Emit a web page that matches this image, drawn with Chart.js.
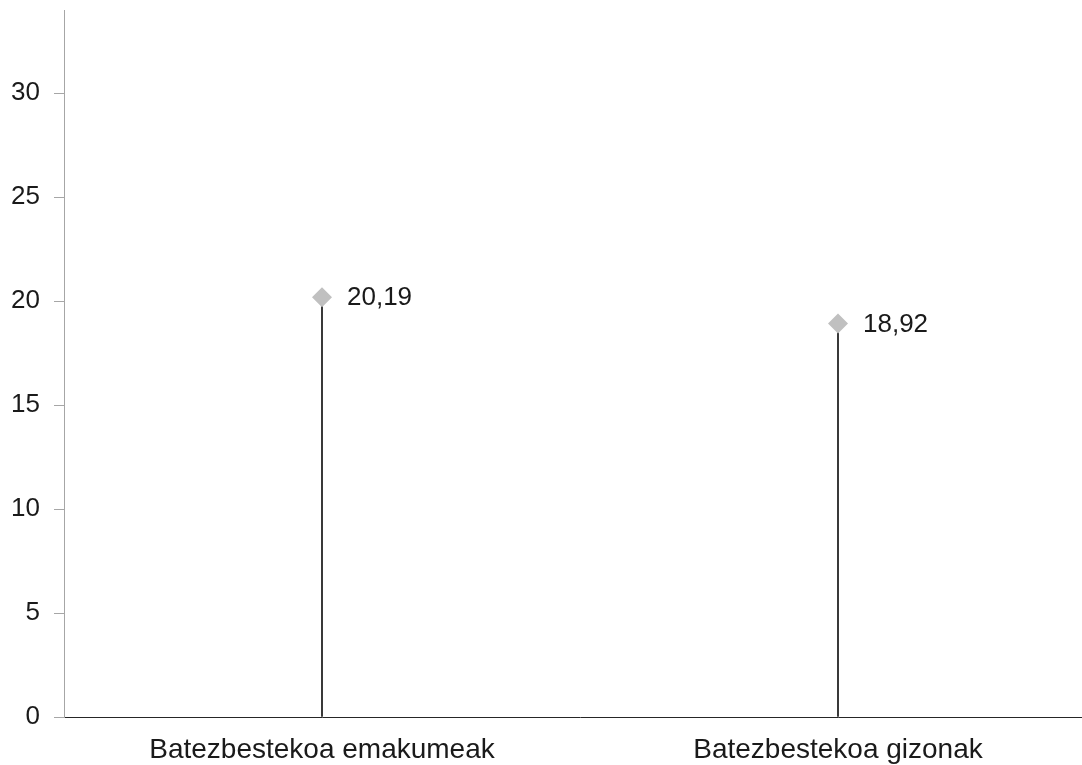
<!DOCTYPE html>
<html>
<head>
<meta charset="utf-8">
<script src="https://cdn.jsdelivr.net/npm/chart.js@4/dist/chart.umd.min.js"></script>
<style>
    html, body { margin: 0; padding: 0; background: #fff; overflow: hidden; }
    #wrap { width: 1106px; height: 765px; }
</style>
</head>
<body>
<div id="wrap"><canvas id="chart" width="1106" height="765"></canvas></div>
<script>
// Chart data
const categories = ['Batezbestekoa emakumeak', 'Batezbestekoa gizonak'];
const averages = [20.19, 18.92];
const yTicks = [0, 5, 10, 15, 20, 25, 30];
const yMax = 34;

const FONT = '"Liberation Sans", Arial, sans-serif';

// Value labels to the right of each diamond, Basque decimal comma
const valueLabels = {
    id: 'valueLabels',
    afterDatasetsDraw(chart) {
        const meta = chart.getDatasetMeta(1);
        const ctx = chart.ctx;
        ctx.save();
        ctx.font = '26px ' + FONT;
        ctx.fillStyle = '#1a1a1a';
        ctx.textAlign = 'left';
        ctx.textBaseline = 'middle';
        meta.data.forEach((pt, i) => {
            const txt = averages[i].toFixed(2).replace('.', ',');
            ctx.fillText(txt, pt.x + 25, pt.y + 1);
        });
        ctx.restore();
    }
};

new Chart(document.getElementById('chart'), {
    data: {
        labels: categories,
        datasets: [
            {
                // thin drop line from the axis up to the marker
                type: 'bar',
                data: averages,
                backgroundColor: '#111',
                barThickness: 1,
                order: 2
            },
            {
                type: 'line',
                data: averages,
                showLine: false,
                pointStyle: 'rectRot',
                pointRadius: 10,
                pointBackgroundColor: '#c0c0c0',
                pointBorderColor: '#c0c0c0',
                pointBorderWidth: 0,
                order: 1
            }
        ]
    },
    options: {
        responsive: false,
        animation: false,
        layout: { padding: { top: 10, left: 0, right: 0, bottom: 0 } },
        plugins: {
            legend: { display: false },
            tooltip: { enabled: false }
        },
        scales: {
            x: {
                type: 'category',
                offset: true,
                grid: { display: false, drawTicks: false },
                border: { display: true, color: '#262626', width: 1 },
                ticks: {
                    color: '#1a1a1a',
                    font: { family: FONT, size: 28 },
                    padding: 16,
                    maxRotation: 0,
                    autoSkip: false
                },
                afterFit(scale) {
                    scale.height = 48;
                    scale.paddingLeft = 0;
                    scale.paddingRight = 0;
                }
            },
            y: {
                min: 0,
                max: yMax,
                grid: {
                    drawOnChartArea: false,
                    drawTicks: true,
                    tickLength: 10,
                    tickColor: '#a6a6a6'
                },
                border: { display: true, color: '#a6a6a6', width: 1 },
                ticks: {
                    stepSize: 5,
                    color: '#1a1a1a',
                    font: { family: FONT, size: 26 },
                    padding: 14
                },
                afterBuildTicks(scale) {
                    scale.ticks = yTicks.map(v => ({ value: v }));
                },
                afterFit(scale) {
                    scale.width = 64;
                    scale.paddingTop = 0;
                    scale.paddingBottom = 0;
                }
            }
        }
    },
    plugins: [valueLabels]
});
</script>
</body>
</html>
